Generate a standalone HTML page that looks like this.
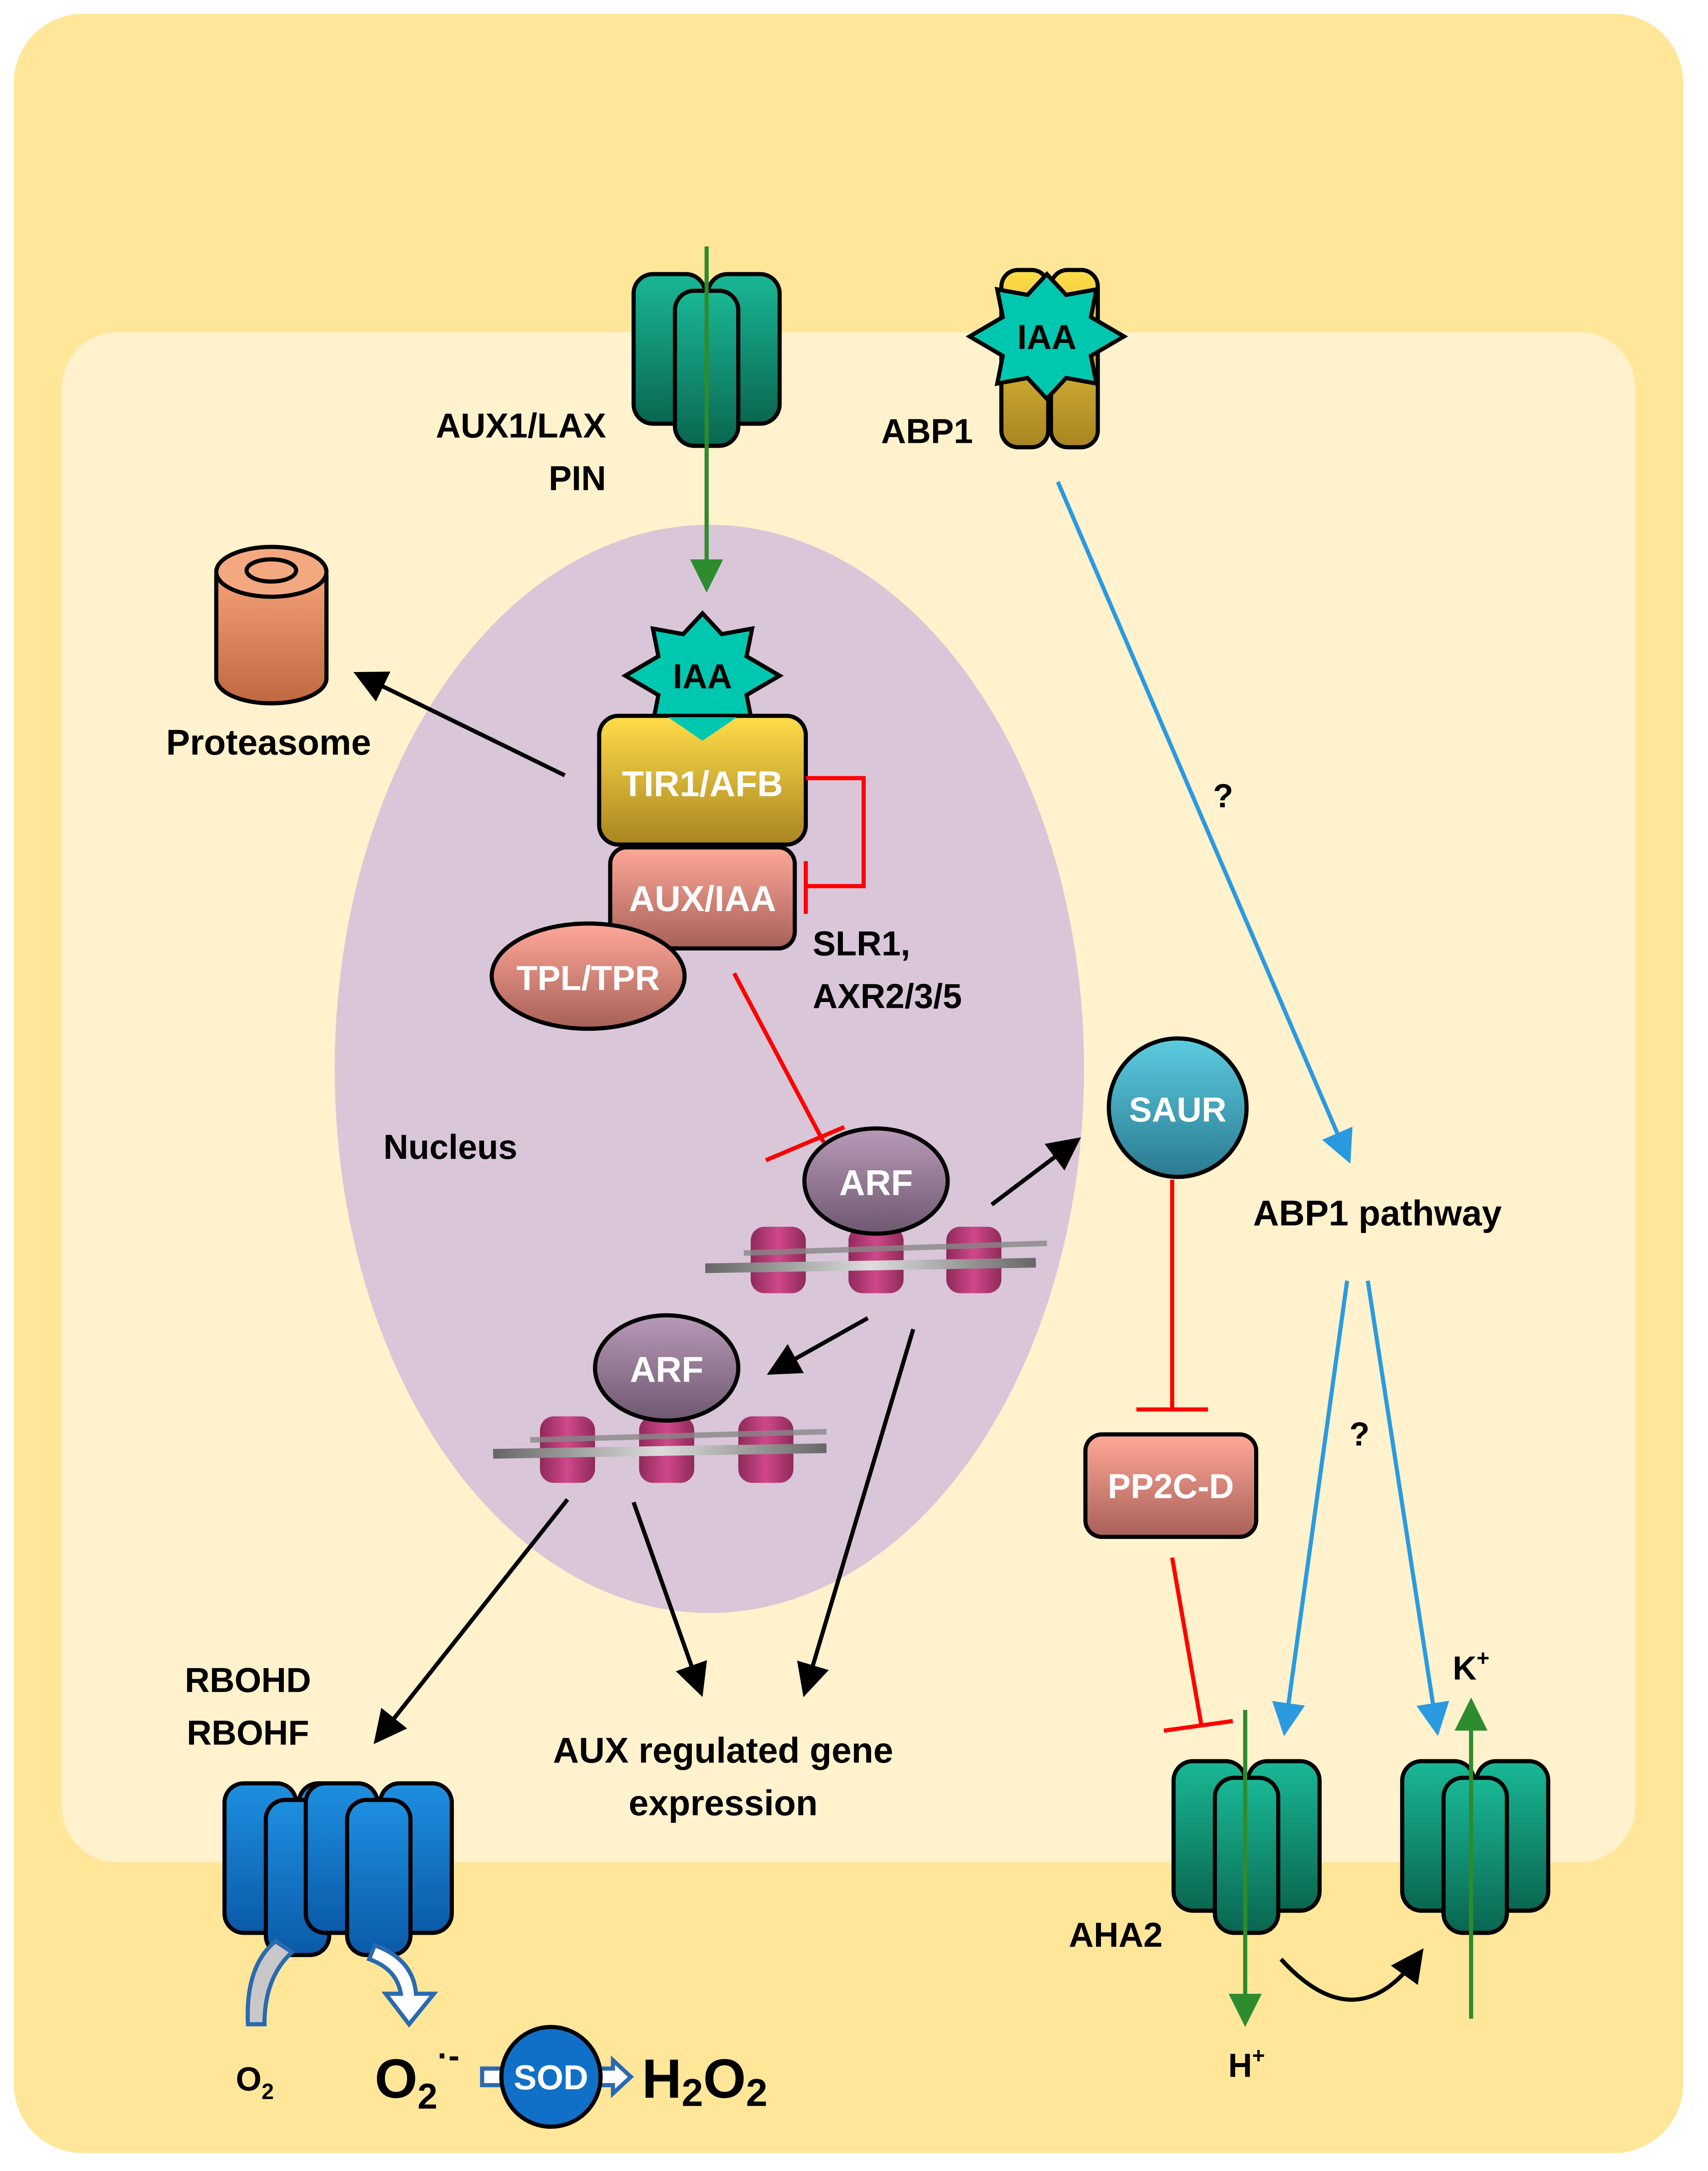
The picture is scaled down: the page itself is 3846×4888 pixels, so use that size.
<!DOCTYPE html>
<html><head><meta charset="utf-8"><style>
html,body{margin:0;padding:0;background:#fff;}
svg{display:block;}
text{font-family:"Liberation Sans",sans-serif;font-weight:bold;}
</style></head><body>
<svg width="3846" height="4888" viewBox="0 0 1240 1568" preserveAspectRatio="none" xmlns="http://www.w3.org/2000/svg">
<defs>
<linearGradient id="gr" x1="0" y1="0" x2="0" y2="1"><stop offset="0" stop-color="#19B895"/><stop offset="1" stop-color="#0A6650"/></linearGradient>
<linearGradient id="bl" x1="0" y1="0" x2="0" y2="1"><stop offset="0" stop-color="#1E8FE0"/><stop offset="1" stop-color="#0A5AA8"/></linearGradient>
<linearGradient id="gold" x1="0" y1="0" x2="0" y2="1"><stop offset="0" stop-color="#FFDD4A"/><stop offset="1" stop-color="#A88520"/></linearGradient>
<linearGradient id="sal" x1="0" y1="0" x2="0" y2="1"><stop offset="0" stop-color="#FFA898"/><stop offset="1" stop-color="#A86058"/></linearGradient>
<linearGradient id="arf" x1="0" y1="0" x2="0" y2="1"><stop offset="0" stop-color="#B89AB8"/><stop offset="1" stop-color="#6E5870"/></linearGradient>
<linearGradient id="saur" x1="0" y1="0" x2="0" y2="1"><stop offset="0" stop-color="#5CCCE0"/><stop offset="1" stop-color="#2A7A90"/></linearGradient>
<linearGradient id="prot" x1="0" y1="0" x2="0" y2="1"><stop offset="0" stop-color="#F4A078"/><stop offset="1" stop-color="#C06840"/></linearGradient>
<linearGradient id="nuc" x1="0" y1="0" x2="1" y2="0"><stop offset="0" stop-color="#8E2A5A"/><stop offset="0.5" stop-color="#D0488A"/><stop offset="1" stop-color="#8E2A5A"/></linearGradient>
<linearGradient id="dna" x1="0" y1="0" x2="1" y2="0"><stop offset="0" stop-color="#666"/><stop offset="0.5" stop-color="#ddd"/><stop offset="1" stop-color="#666"/></linearGradient>
<marker id="ak" markerWidth="8" markerHeight="8" refX="6" refY="4" orient="auto" markerUnits="strokeWidth"><path d="M0,0 L8,4 L0,8 z" fill="#000"/></marker>
<marker id="ab" markerWidth="8" markerHeight="8" refX="6" refY="4" orient="auto" markerUnits="strokeWidth"><path d="M0,0 L8,4 L0,8 z" fill="#2A9AE0"/></marker>
<marker id="ag" markerWidth="8" markerHeight="8" refX="6" refY="4" orient="auto" markerUnits="strokeWidth"><path d="M0,0 L8,4 L0,8 z" fill="#2E8B2E"/></marker>
<g id="chan">
<rect x="0" y="0" width="52" height="108" rx="14" fill="url(#gr)" stroke="#000" stroke-width="3"/>
<rect x="54" y="0" width="52" height="108" rx="14" fill="url(#gr)" stroke="#000" stroke-width="3"/>
<rect x="30" y="12" width="46" height="112" rx="14" fill="url(#gr)" stroke="#000" stroke-width="3"/>
</g>
<g id="chanb">
<rect x="0" y="0" width="52" height="108" rx="14" fill="url(#bl)" stroke="#000" stroke-width="3"/>
<rect x="54" y="0" width="52" height="108" rx="14" fill="url(#bl)" stroke="#000" stroke-width="3"/>
<rect x="30" y="12" width="46" height="112" rx="14" fill="url(#bl)" stroke="#000" stroke-width="3"/>
</g>
<g id="ns">
<rect x="-20" y="-22" width="40" height="48" rx="10" fill="url(#nuc)"/>
</g>
<path id="star" d="M0,-45 L14,-30 L36,-34 L32,-14 L56,0 L32,14 L36,34 L14,30 L0,45 L-14,30 L-36,34 L-32,14 L-56,0 L-32,-14 L-36,-34 L-14,-30 Z"/>
</defs>

<rect x="10" y="10" width="1212" height="1545" rx="50" fill="#FFE699"/>
<rect x="45" y="240" width="1142" height="1105" rx="40" fill="#FFF2CC"/>
<ellipse cx="515" cy="772" rx="272" ry="393" fill="#D9C6D9"/>

<!-- top transporter -->
<use href="#chan" x="460" y="198"/>
<line x1="513" y1="178" x2="513" y2="422" stroke="#2E8B2E" stroke-width="3" marker-end="url(#ag)"/>
<text x="440" y="316" font-size="25" text-anchor="end">AUX1/LAX</text>
<text x="440" y="354" font-size="25" text-anchor="end">PIN</text>

<!-- ABP1 -->
<rect x="727" y="195" width="34" height="128" rx="12" fill="url(#gold)" stroke="#000" stroke-width="3"/>
<rect x="763" y="195" width="34" height="128" rx="12" fill="url(#gold)" stroke="#000" stroke-width="3"/>
<use href="#star" transform="translate(760,243)" fill="#00C8B0" stroke="#000" stroke-width="3"/>
<text x="760" y="252" font-size="25" text-anchor="middle">IAA</text>
<text x="673" y="320" font-size="25" text-anchor="middle">ABP1</text>

<!-- proteasome -->
<path d="M157,415 L157,490 A40,18 0 0 0 237,490 L237,415" fill="url(#prot)" stroke="#000" stroke-width="3"/>
<ellipse cx="197" cy="413" rx="40" ry="18" fill="#F4A880" stroke="#000" stroke-width="3"/>
<ellipse cx="197" cy="412" rx="18" ry="8" fill="#F4A880" stroke="#000" stroke-width="3"/>
<text x="195" y="545" font-size="26" text-anchor="middle">Proteasome</text>
<line x1="410" y1="560" x2="262" y2="488" stroke="#000" stroke-width="3" marker-end="url(#ak)"/>

<!-- TIR1 complex -->
<use href="#star" transform="translate(510,488)" fill="#00C8B0" stroke="#000" stroke-width="3"/>
<text x="510" y="497" font-size="25" text-anchor="middle">IAA</text>
<rect x="443" y="612" width="134" height="73" rx="12" fill="url(#sal)" stroke="#000" stroke-width="3"/>
<rect x="435" y="517" width="150" height="93" rx="14" fill="url(#gold)" stroke="#000" stroke-width="3"/>
<path d="M485,518 L510,535 L535,518 Z" fill="#00C8B0"/>
<text x="510" y="575" font-size="26" text-anchor="middle" fill="#fff">TIR1/AFB</text>
<text x="510" y="658" font-size="26" text-anchor="middle" fill="#fff">AUX/IAA</text>
<ellipse cx="427" cy="705" rx="70" ry="38" fill="url(#sal)" stroke="#000" stroke-width="3"/>
<text x="427" y="715" font-size="25" text-anchor="middle" fill="#fff">TPL/TPR</text>
<polyline points="585,562 627,562 627,640 585,640" fill="none" stroke="#F00" stroke-width="3"/>
<line x1="585" y1="622" x2="585" y2="660" stroke="#F00" stroke-width="3"/>
<text x="590" y="690" font-size="25">SLR1,</text>
<text x="590" y="728" font-size="25">AXR2/3/5</text>
<line x1="533" y1="703" x2="598" y2="825" stroke="#F00" stroke-width="3"/>
<line x1="556" y1="838" x2="613" y2="814" stroke="#F00" stroke-width="3"/>
<text x="327" y="837" font-size="25" text-anchor="middle">Nucleus</text>

<!-- ARF 1 -->
<use href="#ns" x="565" y="908"/><use href="#ns" x="636" y="908"/><use href="#ns" x="707" y="908"/>
<line x1="512" y1="916" x2="752" y2="912" stroke="url(#dna)" stroke-width="7"/>
<line x1="540" y1="905" x2="760" y2="898" stroke="#888" stroke-width="4" opacity="0.8"/>
<ellipse cx="636" cy="853" rx="52" ry="38" fill="url(#arf)" stroke="#000" stroke-width="3"/>
<text x="636" y="863" font-size="26" text-anchor="middle" fill="#fff">ARF</text>
<line x1="720" y1="870" x2="780" y2="825" stroke="#000" stroke-width="3" marker-end="url(#ak)"/>

<!-- ARF 2 -->
<use href="#ns" x="412" y="1045"/><use href="#ns" x="484" y="1045"/><use href="#ns" x="556" y="1045"/>
<line x1="358" y1="1050" x2="600" y2="1046" stroke="url(#dna)" stroke-width="7"/>
<line x1="385" y1="1040" x2="600" y2="1034" stroke="#888" stroke-width="4" opacity="0.8"/>
<ellipse cx="484" cy="988" rx="52" ry="38" fill="url(#arf)" stroke="#000" stroke-width="3"/>
<text x="484" y="998" font-size="26" text-anchor="middle" fill="#fff">ARF</text>
<line x1="630" y1="952" x2="562" y2="990" stroke="#000" stroke-width="3" marker-end="url(#ak)"/>
<line x1="663" y1="960" x2="585" y2="1220" stroke="#000" stroke-width="3" marker-end="url(#ak)"/>
<line x1="460" y1="1085" x2="508" y2="1220" stroke="#000" stroke-width="3" marker-end="url(#ak)"/>
<line x1="412" y1="1083" x2="275" y2="1255" stroke="#000" stroke-width="3" marker-end="url(#ak)"/>
<text x="525" y="1273" font-size="26" text-anchor="middle">AUX regulated gene</text>
<text x="525" y="1311" font-size="26" text-anchor="middle">expression</text>

<!-- RBOH -->
<text x="180" y="1222" font-size="25" text-anchor="middle">RBOHD</text>
<text x="180" y="1260" font-size="25" text-anchor="middle">RBOHF</text>
<use href="#chanb" x="163" y="1288"/>
<use href="#chanb" x="222" y="1288"/>
<path d="M200,1402 Q178,1420 180,1462 L192,1462 Q192,1428 212,1410 Z" fill="#C8C8C8" stroke="#2A6AB0" stroke-width="3"/>
<path d="M272,1405 Q300,1415 302,1440 L315,1440 L297,1462 L280,1440 L291,1440 Q288,1422 268,1415 Z" fill="#fff" stroke="#2A6AB0" stroke-width="3"/>
<text x="185" y="1510" font-size="24" text-anchor="middle">O<tspan font-size="16" dy="6">2</tspan></text>
<text x="272" y="1515" font-size="40">O<tspan font-size="26" dy="8">2</tspan><tspan font-size="24" dy="-30">·-</tspan></text>
<rect x="350" y="1494" width="20" height="12" fill="#fff" stroke="#2A6AB0" stroke-width="3"/>
<path d="M430,1494 L445,1494 L445,1488 L458,1500 L445,1512 L445,1506 L430,1506 Z" fill="#fff" stroke="#2A6AB0" stroke-width="3"/>
<circle cx="400" cy="1500" r="36" fill="#1070C8" stroke="#000" stroke-width="3"/>
<text x="400" y="1509" font-size="25" text-anchor="middle" fill="#fff">SOD</text>
<text x="466" y="1515" font-size="40">H<tspan font-size="28" dy="6">2</tspan><tspan dy="-6">O</tspan><tspan font-size="28" dy="6">2</tspan></text>

<!-- ABP1 pathway -->
<line x1="768" y1="348" x2="978" y2="835" stroke="#2A9AE0" stroke-width="3" marker-end="url(#ab)"/>
<text x="888" y="583" font-size="24" text-anchor="middle">?</text>
<text x="1000" y="885" font-size="26" text-anchor="middle">ABP1 pathway</text>
<line x1="978" y1="925" x2="933" y2="1248" stroke="#2A9AE0" stroke-width="3" marker-end="url(#ab)"/>
<line x1="993" y1="925" x2="1043" y2="1248" stroke="#2A9AE0" stroke-width="3" marker-end="url(#ab)"/>
<text x="987" y="1044" font-size="24" text-anchor="middle">?</text>

<!-- SAUR / PP2C -->
<circle cx="855" cy="800" r="50" fill="url(#saur)" stroke="#000" stroke-width="3"/>
<text x="855" y="810" font-size="25" text-anchor="middle" fill="#fff">SAUR</text>
<line x1="851" y1="852" x2="851" y2="1018" stroke="#F00" stroke-width="3"/>
<line x1="825" y1="1018" x2="877" y2="1018" stroke="#F00" stroke-width="3"/>
<rect x="788" y="1036" width="124" height="74" rx="12" fill="url(#sal)" stroke="#000" stroke-width="3"/>
<text x="850" y="1082" font-size="25" text-anchor="middle" fill="#fff">PP2C-D</text>
<line x1="851" y1="1125" x2="872" y2="1245" stroke="#F00" stroke-width="3"/>
<line x1="845" y1="1250" x2="895" y2="1243" stroke="#F00" stroke-width="3"/>

<!-- AHA2 -->
<use href="#chan" x="852" y="1272"/>
<line x1="904" y1="1235" x2="904" y2="1458" stroke="#2E8B2E" stroke-width="3" marker-end="url(#ag)"/>
<text x="810" y="1406" font-size="25" text-anchor="middle">AHA2</text>
<text x="905" y="1500" font-size="24" text-anchor="middle">H<tspan font-size="16" dy="-10">+</tspan></text>
<use href="#chan" x="1018" y="1272"/>
<line x1="1068" y1="1458" x2="1068" y2="1232" stroke="#2E8B2E" stroke-width="3" marker-end="url(#ag)"/>
<text x="1068" y="1213" font-size="24" text-anchor="middle">K<tspan font-size="16" dy="-10">+</tspan></text>
<path d="M930,1415 Q985,1475 1030,1412" fill="none" stroke="#000" stroke-width="3" marker-end="url(#ak)"/>
</svg>
</body></html>
